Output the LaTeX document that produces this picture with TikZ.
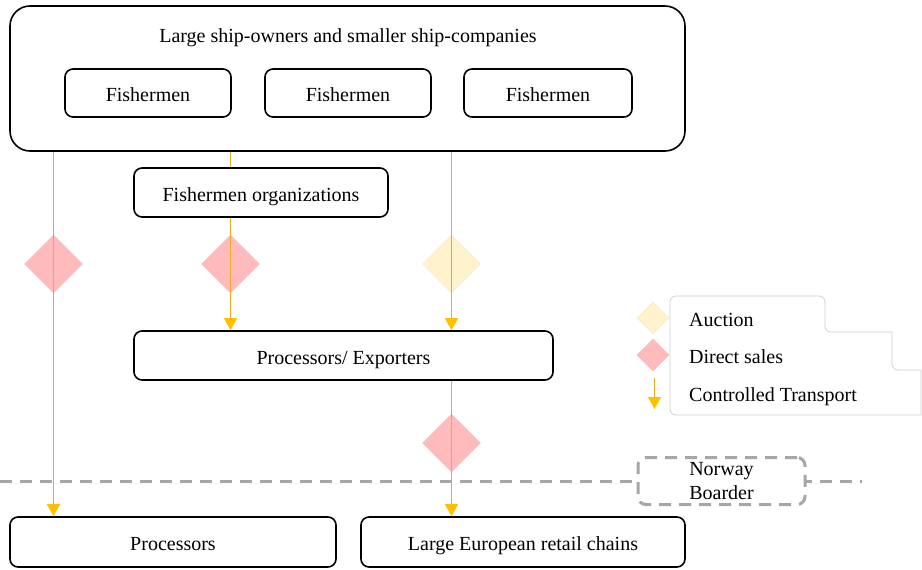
\documentclass[tikz,border=0pt]{standalone}
\usepackage{fontspec}
\setmainfont{Liberation Serif}
\usetikzlibrary{arrows.meta,positioning,shapes.geometric}
\definecolor{Flow}{HTML}{EDAA22}
\definecolor{Tip}{HTML}{FFC000}
\definecolor{SalePink}{HTML}{FFBBBB}
\definecolor{AuctionYellow}{HTML}{FFF2CC}
\definecolor{Border}{HTML}{A6A6A6}
\definecolor{Legend}{HTML}{D0D0D0}
\tikzset{
  unitbox/.style={draw=black, rounded corners=8pt, line width=1.6pt, fill=white, align=center, inner sep=0pt, text height=17pt, text depth=0pt, font=\fontsize{20}{24}\selectfont},
  salediamond/.style={diamond, fill=SalePink, draw=SalePink!90!gray, line width=0.4pt, minimum width=#1, minimum height=#1, inner sep=0pt},
  auctiondiamond/.style={diamond, fill=AuctionYellow, draw=AuctionYellow!90!gray, line width=0.4pt, minimum width=#1, minimum height=#1, inner sep=0pt},
  flow/.style={draw=Flow, line width=1.2pt},
  transport/.style={flow, -{Triangle[width=13pt,length=12pt,color=Tip]}},
  legendtext/.style={anchor=base west, inner sep=0pt, font=\fontsize{20}{24}\selectfont}
}
\begin{document}
\begin{tikzpicture}[x=1pt, y=-1pt]
  \useasboundingbox (0,0) rectangle (922,570);

  % chain boxes
  \node[unitbox, rounded corners=20pt, minimum width=675pt, minimum height=145pt] (owners) at (347.5,78.5) {};
  \node[anchor=base, inner sep=0pt, font=\fontsize{20}{24}\selectfont] (ownerslabel) at (348,42) {Large ship-owners and smaller ship-companies};
  \node[unitbox, minimum width=166pt, minimum height=48pt] (fisherA) at (148,93) {Fishermen};
  \node[unitbox, minimum width=166pt, minimum height=48pt] (fisherB) at (348,93) {Fishermen};
  \node[unitbox, minimum width=168pt, minimum height=48pt] (fisherC) at (548,93) {Fishermen};
  \node[unitbox, minimum width=254pt, minimum height=49pt] (org) at (261,192.5) {Fishermen organizations};
  \node[unitbox, minimum width=419pt, minimum height=49pt] (proc) at (343.5,355.5) {Processors/ Exporters};
  \node[unitbox, minimum width=326pt, minimum height=50pt] (domestic) at (173,542) {Processors};
  \node[unitbox, minimum width=324pt, minimum height=50pt] (retail) at (523,542) {Large European retail chains};

  % sales markers
  \node[salediamond=58pt] (saleA) at (53.5,264) {};
  \node[salediamond=58pt] (saleB) at (230.5,264) {};
  \node[auctiondiamond=58pt] (auction) at (451.5,264) {};
  \node[salediamond=58pt] (saleC) at (451.5,443) {};

  % border
  \coordinate (borderW) at (0,481);
  \coordinate (borderE) at (862,481);
  \draw[Border, line width=3pt, dash pattern=on 12pt off 8pt] (borderW) -- (borderE);
  \node[draw=Border, line width=3pt, dash pattern=on 12pt off 8pt, rounded corners=8pt, fill=white, minimum width=167pt, minimum height=47pt, align=center, inner sep=0pt, font=\fontsize{20}{24}\selectfont] (norway) at (721.5,481) {Norway\\Boarder};

  % flows
  \draw[transport] (owners.south -| saleA) -- (domestic.north -| saleA);
  \draw[flow] (owners.south -| saleB) -- (org.north -| saleB);
  \draw[transport] (org.south -| saleB) -- (proc.north -| saleB);
  \draw[transport] (owners.south -| auction) -- (proc.north -| auction);
  \draw[transport] (proc.south -| saleC) -- (retail.north -| saleC);

  % legend
  \draw[Legend, line width=0.8pt, rounded corners=6pt]
    (670,415) -- (670,296) -- (825,296) -- (825,332) [sharp corners] -- (892,332) [rounded corners=6pt] -- (892,370) [sharp corners] -- (921,370) -- (921,415) [rounded corners=6pt] -- cycle;
  \node[auctiondiamond=32pt] (keyauction) at (653,318) {};
  \node[salediamond=32pt] (keysale) at (653,355) {};
  \coordinate (keytop) at (654.5,378);
  \coordinate (keybottom) at (654.5,409);
  \draw[transport] (keytop) -- (keybottom);
  \node[legendtext] (keyauctiontext) at (689,326) {Auction};
  \node[legendtext] (keysaletext) at (689,363) {Direct sales};
  \node[legendtext] (keytransporttext) at (689,401) {Controlled Transport};
\end{tikzpicture}
\end{document}
